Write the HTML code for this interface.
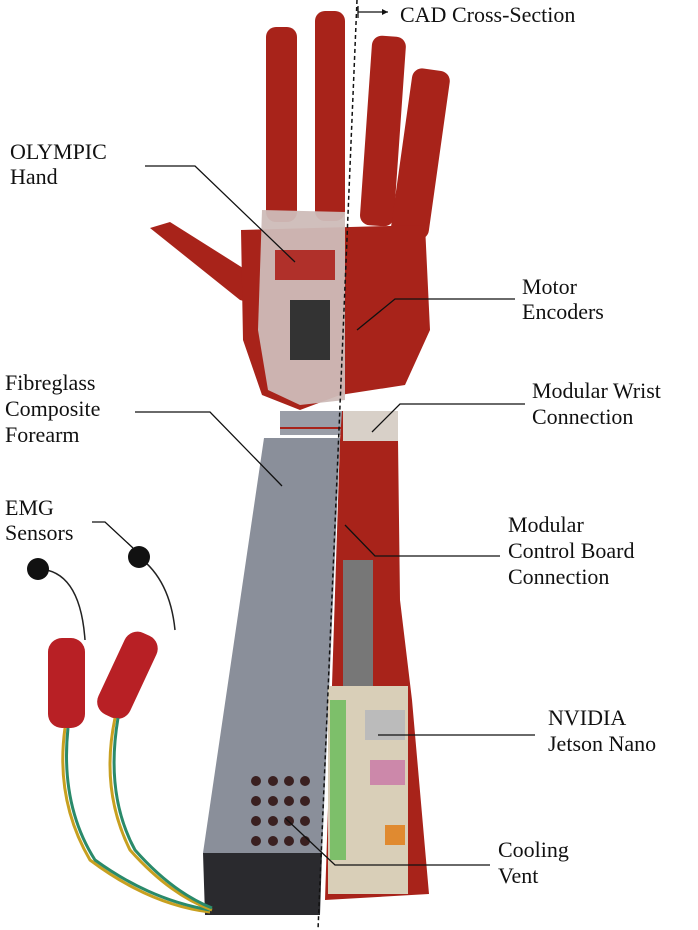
<!DOCTYPE html>
<html><head><style>
body{margin:0;background:#fff;}
svg{display:block}
text{font-family:"Liberation Serif",serif;font-size:22px;fill:#111}
</style></head><body>
<svg width="698" height="930" viewBox="0 0 698 930">
<g fill="#a8231a">
<rect x="266" y="27" width="31" height="195" rx="10"/>
<rect x="315" y="11" width="30" height="210" rx="10"/>
<rect x="366" y="36" width="34" height="190" rx="10" transform="rotate(4 383 130)"/>
<rect x="402" y="69" width="38" height="170" rx="10" transform="rotate(8 421 150)"/>
<polygon points="150,228 170,222 262,280 258,305 240,300"/>
<path d="M241,230 L425,225 L430,330 L405,385 L340,395 L300,410 L262,395 L243,340 Z"/>
</g>
<path d="M262,210 L345,212 L345,400 L300,405 L268,390 L258,330 Z" fill="#cdbcb8" opacity="0.95"/>
<rect x="275" y="250" width="60" height="30" fill="#b0302a"/>
<rect x="290" y="300" width="40" height="60" fill="#333"/>
<polygon points="280,411 342,411 342,435 280,435" fill="#9a9ea8"/>
<line x1="280" y1="428" x2="342" y2="428" stroke="#a8231a" stroke-width="2"/>
<polygon points="264,438 340,438 322,853 203,853" fill="#8a8f9a"/>
<polygon points="203,853 322,853 320,915 205,915" fill="#2a2a2e"/>
<g fill="#3a2020">
<circle cx="256" cy="781" r="5"/><circle cx="273" cy="781" r="5"/><circle cx="289" cy="781" r="5"/><circle cx="305" cy="781" r="5"/>
<circle cx="256" cy="801" r="5"/><circle cx="273" cy="801" r="5"/><circle cx="289" cy="801" r="5"/><circle cx="305" cy="801" r="5"/>
<circle cx="256" cy="821" r="5"/><circle cx="273" cy="821" r="5"/><circle cx="289" cy="821" r="5"/><circle cx="305" cy="821" r="5"/>
<circle cx="256" cy="841" r="5"/><circle cx="273" cy="841" r="5"/><circle cx="289" cy="841" r="5"/><circle cx="305" cy="841" r="5"/>
</g>
<polygon points="342,411 398,411 398,440 400,600 412,700 429,894 325,900 340,440" fill="#a8231a"/>
<rect x="343" y="411" width="55" height="30" fill="#d8d0c8"/>
<rect x="343" y="560" width="30" height="130" fill="#777"/>
<rect x="328" y="686" width="80" height="208" fill="#d9cfb8"/>
<rect x="330" y="700" width="16" height="160" fill="#7dbf6a"/>
<rect x="365" y="710" width="40" height="30" fill="#bbb"/>
<rect x="370" y="760" width="35" height="25" fill="#c8a"/>
<rect x="385" y="825" width="20" height="20" fill="#e08a30"/>
<g fill="none" stroke="#222" stroke-width="1.5">
<path d="M38,569 Q80,570 85,640"/><path d="M139,557 Q170,580 175,630"/>
</g>
<circle cx="38" cy="569" r="11" fill="#111"/>
<circle cx="139" cy="557" r="11" fill="#111"/>
<rect x="48" y="638" width="37" height="90" rx="14" fill="#b82025"/>
<rect x="110" y="630" width="35" height="90" rx="14" fill="#b82025" transform="rotate(25 127 675)"/>
<g fill="none" stroke-width="3">
<path d="M65,728 Q55,800 90,860 Q150,905 210,912" stroke="#c8a020"/>
<path d="M68,728 Q60,805 95,860 Q150,900 210,910" stroke="#2a8a6a"/>
<path d="M115,718 Q100,790 130,850 Q170,895 212,910" stroke="#c8a020"/>
<path d="M118,718 Q105,795 135,850 Q172,892 212,908" stroke="#2a8a6a"/>
</g>
<line x1="357" y1="0" x2="318" y2="930" stroke="#111" stroke-width="1.5" stroke-dasharray="4,3"/>
<path d="M358,6 L358,18 M358,12 L388,12" stroke="#111" stroke-width="1.3"/>
<path d="M388,12 L382,9 L382,15 Z" fill="#111"/>
<g fill="none" stroke="#111" stroke-width="1.3">
<polyline points="145,166 195,166 295,262"/>
<polyline points="515,299 395,299 357,330"/>
<polyline points="135,412 210,412 282,486"/>
<polyline points="525,404 400,404 372,432"/>
<polyline points="92,522 105,522 133,548"/>
<polyline points="500,556 375,556 345,525"/>
<polyline points="535,735 378,735"/>
<polyline points="490,865 335,865 285,818"/>
</g>
<text x="400" y="22">CAD Cross-Section</text>
<text x="10" y="159">OLYMPIC</text><text x="10" y="184">Hand</text>
<text x="522" y="294">Motor</text><text x="522" y="319">Encoders</text>
<text x="5" y="390">Fibreglass</text><text x="5" y="416">Composite</text><text x="5" y="442">Forearm</text>
<text x="532" y="398">Modular Wrist</text><text x="532" y="424">Connection</text>
<text x="5" y="515">EMG</text><text x="5" y="540">Sensors</text>
<text x="508" y="532">Modular</text><text x="508" y="558">Control Board</text><text x="508" y="584">Connection</text>
<text x="548" y="725">NVIDIA</text><text x="548" y="751">Jetson Nano</text>
<text x="498" y="857">Cooling</text><text x="498" y="883">Vent</text>
</svg>
</body></html>
